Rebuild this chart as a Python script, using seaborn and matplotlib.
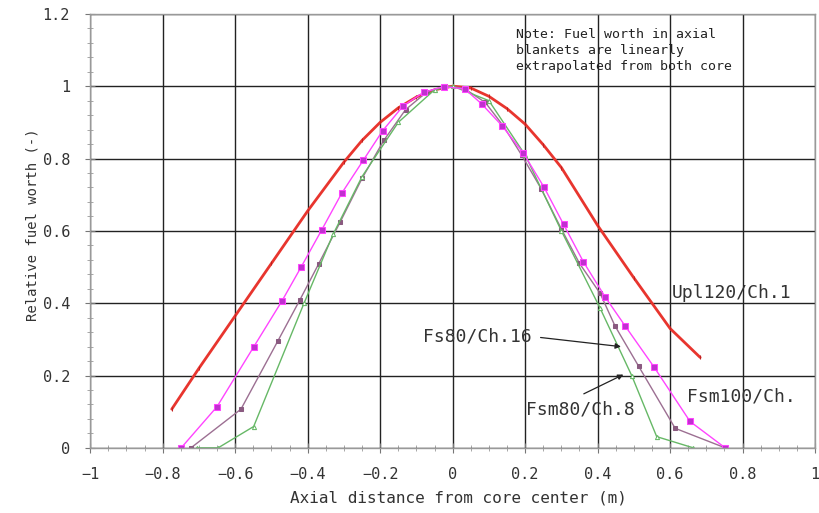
import matplotlib
matplotlib.use("Agg")
import matplotlib.pyplot as plt
import numpy as np
import pandas as pd
import seaborn as sns
from matplotlib.ticker import MultipleLocator, FuncFormatter

# Upl120/Ch.1 (red)
upl_x = [-0.775, -0.7, -0.6, -0.5, -0.4, -0.3, -0.25, -0.2, -0.15, -0.1, -0.05, 0.0,
         0.05, 0.1, 0.15, 0.2, 0.25, 0.3, 0.4, 0.5, 0.6, 0.683]
upl_y = [0.107, 0.22, 0.365, 0.51, 0.655, 0.79, 0.85, 0.9, 0.94, 0.97, 0.99, 1.0,
         0.995, 0.972, 0.938, 0.895, 0.838, 0.775, 0.615, 0.47, 0.33, 0.25]

# Fsm100/Ch. (magenta squares)
fsm100_x = [-0.749, -0.650, -0.549, -0.471, -0.418, -0.361, -0.306, -0.246, -0.193, -0.136, -0.08,
            -0.025, 0.034, 0.080, 0.136, 0.195, 0.252, 0.306, 0.361, 0.421, 0.476, 0.556, 0.655, 0.752]
fsm100_y = [0.0, 0.114, 0.279, 0.406, 0.50, 0.603, 0.704, 0.796, 0.877, 0.946, 0.983,
            0.999, 0.992, 0.951, 0.891, 0.815, 0.721, 0.618, 0.514, 0.417, 0.337, 0.223, 0.073, 0.0]

# Fs80/Ch.16 (purple-grey)
fs80_x = [-0.722, -0.584, -0.482, -0.421, -0.370, -0.31, -0.25, -0.19, -0.13, -0.07, -0.02,
          0.03, 0.09, 0.14, 0.19, 0.245, 0.3, 0.35, 0.407, 0.448, 0.513, 0.614, 0.752]
fs80_y = [0.0, 0.107, 0.296, 0.41, 0.508, 0.625, 0.745, 0.85, 0.935, 0.985, 1.0,
          0.995, 0.955, 0.89, 0.81, 0.715, 0.605, 0.51, 0.427, 0.337, 0.226, 0.054, 0.0]

# Fsm80/Ch.8 (green)
fsm80_x = [-0.706, -0.647, -0.549, -0.41, -0.33, -0.25, -0.15, -0.05, 0.0, 0.1, 0.2, 0.3, 0.407, 0.494, 0.563, 0.664]
fsm80_y = [0.0, 0.0, 0.059, 0.40, 0.59, 0.75, 0.9, 0.99, 1.0, 0.96, 0.81, 0.6, 0.386, 0.2, 0.031, 0.0]

note = 'Note: Fuel worth in axial\nblankets are linearly\nextrapolated from both core'

sns.set_style("white")
plt.rcParams['font.family'] = ['DejaVu Sans Mono', 'DejaVu Sans']

fig = plt.figure(figsize=(8.2, 5.13), dpi=100)
ax = fig.add_axes([0.110, 0.127, 0.884, 0.846])

sns.lineplot(x=upl_x, y=upl_y, sort=False, ax=ax, color='#e8352e', linewidth=2.0,
             marker='|', markersize=3, markeredgecolor='#c02020')
sns.lineplot(x=fs80_x, y=fs80_y, sort=False, ax=ax, color='#9c6f92', linewidth=1.0,
             marker='s', markersize=2.5, markeredgecolor='#8a5a80', markerfacecolor='#8a5a80')
sns.lineplot(x=fsm80_x, y=fsm80_y, sort=False, ax=ax, color='#66b866', linewidth=1.0,
             marker='^', markersize=3, markerfacecolor='white', markeredgecolor='#66b866')
sns.lineplot(x=fsm100_x, y=fsm100_y, sort=False, ax=ax, color='#ff44ff', linewidth=1.0,
             marker='s', markersize=4.5, markerfacecolor='#c030d0', markeredgecolor='#ff44ff')

ax.set_xlim(-1, 1)
ax.set_ylim(0, 1.2)
ax.xaxis.set_major_locator(MultipleLocator(0.2))
ax.yaxis.set_major_locator(MultipleLocator(0.2))
ax.xaxis.set_minor_locator(MultipleLocator(0.05))
ax.yaxis.set_minor_locator(MultipleLocator(0.04))


def tick_fmt(v, p):
    if abs(v) < 1e-9:
        return "0"
    return f"{v:.1f}".rstrip('0').rstrip('.').replace('-', '\u2212')


ax.xaxis.set_major_formatter(FuncFormatter(tick_fmt))
ax.yaxis.set_major_formatter(FuncFormatter(tick_fmt))
ax.grid(True, which='major', color='#222222', linewidth=1.0)
ax.set_axisbelow(True)
for s in ax.spines.values():
    s.set_color('#999999')
    s.set_linewidth(1.0)
ax.tick_params(which='major', direction='inout', length=7, color='#777777', labelsize=11,
               labelcolor='#333333', left=True, bottom=True)
ax.tick_params(axis='y', which='major', pad=11)
ax.tick_params(axis='x', which='major', pad=10)
ax.tick_params(which='minor', direction='inout', length=4, color='#999999', left=True, bottom=True)

ax.set_xlabel('Axial distance from core center (m)', fontsize=11.5, color='#333333')
ax.set_ylabel('Relative fuel worth (-)', fontsize=10, color='#333333')
ax.xaxis.set_label_coords(0.508, -0.098)
ax.yaxis.set_label_coords(-0.070, 0.514)

ax.text(0.175, 1.162, note, fontsize=9.5, va='top', ha='left', linespacing=1.3, color='#222222')
ax.text(0.605, 0.428, 'Upl120/Ch.1', fontsize=13, va='center', ha='left', color='#333333')
ax.text(-0.081, 0.309, 'Fs80/Ch.16', fontsize=13, va='center', ha='left', color='#333333')
ax.text(0.203, 0.105, 'Fsm80/Ch.8', fontsize=13, va='center', ha='left', color='#333333')
ax.text(0.647, 0.141, 'Fsm100/Ch.', fontsize=13, va='center', ha='left', color='#333333')

ax.annotate('', xy=(0.472, 0.279), xytext=(0.235, 0.306),
            arrowprops=dict(arrowstyle='-|>', color='#222222', lw=0.9, mutation_scale=8))
ax.annotate('', xy=(0.478, 0.206), xytext=(0.355, 0.146),
            arrowprops=dict(arrowstyle='-|>', color='#222222', lw=0.9, mutation_scale=8))

fig.savefig('out.png', dpi=100)
